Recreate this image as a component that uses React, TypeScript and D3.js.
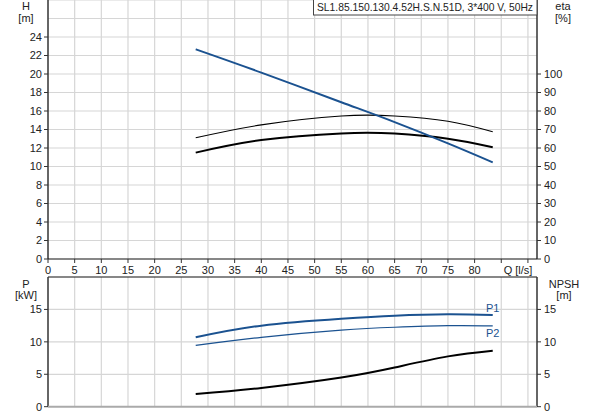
import React from "react";
import * as d3 from "d3";

const title = "SL1.85.150.130.4.52H.S.N.51D, 3*400 V, 50Hz";

// Q values (l/s)
const qCurve = [27.7, 40, 55, 65, 75, 83.4];
const hVals = [22.67, 20.15, 16.95, 14.8, 12.5, 10.45];
const etaThin = [65.5, 72.5, 77.3, 77.3, 74.5, 68.8];
const etaThick = [57.5, 64.3, 67.9, 67.8, 65.0, 60.4];
const p1 = [10.7, 12.5, 13.57, 14.04, 14.25, 14.13];
const p2 = [9.46, 10.7, 11.8, 12.25, 12.5, 12.47];
const npsh = [1.97, 2.9, 4.5, 6.05, 7.76, 8.64];

const xTicks = d3.range(0, 85, 5);
const xGrid = d3.range(5, 95, 5);
const hTicks = d3.range(0, 26, 2);
const hGrid = d3.range(2, 30, 2);
const etaTicks = d3.range(0, 110, 10);
const pTicks = [0, 5, 10, 15];
const pGrid = [5, 10, 15];

const BLUE = "#1b5290";
const GRID = "#d6d6d6";
const TXT = "#222";
const FONT = "Liberation Sans, Arial, sans-serif";

export default function App() {
  const left = 48;
  const right = 537;
  const x = d3.scaleLinear().domain([0, 91.7]).range([left, right]);
  const yH = d3.scaleLinear().domain([0, 28]).range([259, 0]);
  const yEta = d3.scaleLinear().domain([0, 140]).range([259, 0]);
  const yP = d3.scaleLinear().domain([0, 20]).range([406.7, 277]);

  const mk = (ys: number[], sc: d3.ScaleLinear<number, number>) =>
    d3
      .line<number>()
      .x((_, i) => x(qCurve[i]))
      .y((v) => sc(v))
      .curve(d3.curveNatural)(ys) || "";

  const last = qCurve.length - 1;
  const fs = 11;
  return (
    <svg
      width={593}
      height={415}
      style={{ position: "absolute", left: 0, top: 0, background: "#fff" }}
      fontFamily={FONT}
      fontSize={fs}
    >
      <rect x={0} y={0} width={593} height={415} fill="#fff" />
      {/* top grid */}
      {hGrid.map((h) => (
        <line key={"hg" + h} x1={left} x2={right} y1={yH(h)} y2={yH(h)} stroke={GRID} strokeWidth={1.2} />
      ))}
      {xGrid.map((q) => (
        <line key={"xg" + q} x1={x(q)} x2={x(q)} y1={0} y2={259} stroke={GRID} strokeWidth={1.2} />
      ))}
      {/* bottom grid */}
      {pGrid.map((p) => (
        <line key={"pg" + p} x1={left} x2={right} y1={yP(p)} y2={yP(p)} stroke={GRID} strokeWidth={1.2} />
      ))}
      {xGrid.map((q) => (
        <line key={"xg2" + q} x1={x(q)} x2={x(q)} y1={277} y2={406.7} stroke={GRID} strokeWidth={1.2} />
      ))}

      {/* top axes */}
      <line x1={left} x2={left} y1={0} y2={259} stroke="#333" strokeWidth={1.5} />
      <line x1={right} x2={right} y1={0} y2={259} stroke="#333" strokeWidth={1.5} />
      <line x1={left} x2={right} y1={259} y2={259} stroke="#111" strokeWidth={1.2} />
      {hTicks.map((h) => (
        <g key={"ht" + h}>
          <line x1={left - 4} x2={left} y1={yH(h)} y2={yH(h)} stroke="#333" />
          <text x={left - 6} y={yH(h)} dy="0.35em" textAnchor="end" fill={TXT}>
            {h}
          </text>
        </g>
      ))}
      {etaTicks.map((e) => (
        <g key={"et" + e}>
          <line x1={right} x2={right + 4} y1={yEta(e)} y2={yEta(e)} stroke="#333" />
          <text x={right + 7} y={yEta(e)} dy="0.35em" textAnchor="start" fill={TXT}>
            {e}
          </text>
        </g>
      ))}
      {xTicks.map((q) => (
        <g key={"xt" + q}>
          <line x1={x(q)} x2={x(q)} y1={259} y2={263} stroke="#333" />
          <text x={x(q)} y={270} dy="0.35em" textAnchor="middle" fill={TXT}>
            {q}
          </text>
        </g>
      ))}
      {[85, 90].map((q) => (
        <line key={"xe" + q} x1={x(q)} x2={x(q)} y1={259} y2={263} stroke="#333" />
      ))}
      <text x={518} y={270} dy="0.35em" textAnchor="middle" fill={TXT}>
        Q [l/s]
      </text>
      <text x={26} y={6} dy="0.35em" textAnchor="middle" fill={TXT}>H</text>
      <text x={26} y={18} dy="0.35em" textAnchor="middle" fill={TXT}>[m]</text>
      <text x={563} y={6} dy="0.35em" textAnchor="middle" fill={TXT}>eta</text>
      <text x={563} y={18} dy="0.35em" textAnchor="middle" fill={TXT}>[%]</text>

      {/* title box */}
      <rect x={313.5} y={-1} width={right - 313.5} height={16} fill="#fff" stroke="#444" strokeWidth={1} />
      <text x={317} y={7.5} dy="0.35em" fill={TXT} fontSize={11} textLength={216} lengthAdjust="spacingAndGlyphs">
        {title}
      </text>

      {/* top curves */}
      <path d={mk(etaThin, yEta)} fill="none" stroke="#000" strokeWidth={1.1} />
      <path d={mk(etaThick, yEta)} fill="none" stroke="#000" strokeWidth={2} />
      <path d={mk(hVals, yH)} fill="none" stroke={BLUE} strokeWidth={2} />

      {/* bottom axes */}
      <line x1={left} x2={right} y1={277} y2={277} stroke="#111" strokeWidth={1.2} />
      <line x1={left} x2={left} y1={277} y2={407} stroke="#333" strokeWidth={1.5} />
      <line x1={right} x2={right} y1={277} y2={407} stroke="#333" strokeWidth={1.5} />
      <line x1={left} x2={right} y1={406.7} y2={406.7} stroke="#aaa" strokeWidth={2} />
      {pTicks.map((p) => (
        <g key={"pt" + p}>
          <line x1={left - 4} x2={left} y1={yP(p)} y2={yP(p)} stroke="#333" />
          <text x={left - 6} y={yP(p)} dy="0.35em" textAnchor="end" fill={TXT}>
            {p}
          </text>
          <line x1={right} x2={right + 4} y1={yP(p)} y2={yP(p)} stroke="#333" />
          <text x={right + 7} y={yP(p)} dy="0.35em" textAnchor="start" fill={TXT}>
            {p}
          </text>
        </g>
      ))}
      <text x={26} y={284} dy="0.35em" textAnchor="middle" fill={TXT}>P</text>
      <text x={26} y={295} dy="0.35em" textAnchor="middle" fill={TXT}>[kW]</text>
      <text x={564} y={284} dy="0.35em" textAnchor="middle" fill={TXT}>NPSH</text>
      <text x={564} y={295} dy="0.35em" textAnchor="middle" fill={TXT}>[m]</text>

      {/* bottom curves */}
      <path d={mk(p1, yP)} fill="none" stroke={BLUE} strokeWidth={2} />
      <path d={mk(p2, yP)} fill="none" stroke={BLUE} strokeWidth={1.2} />
      <path d={mk(npsh, yP)} fill="none" stroke="#000" strokeWidth={2} />
      <text x={x(qCurve[last])} y={yP(p1[last]) - 3} textAnchor="middle" fill={BLUE}>
        P1
      </text>
      <text x={x(qCurve[last])} y={yP(p2[last]) + 11} textAnchor="middle" fill={BLUE}>
        P2
      </text>
    </svg>
  );
}
